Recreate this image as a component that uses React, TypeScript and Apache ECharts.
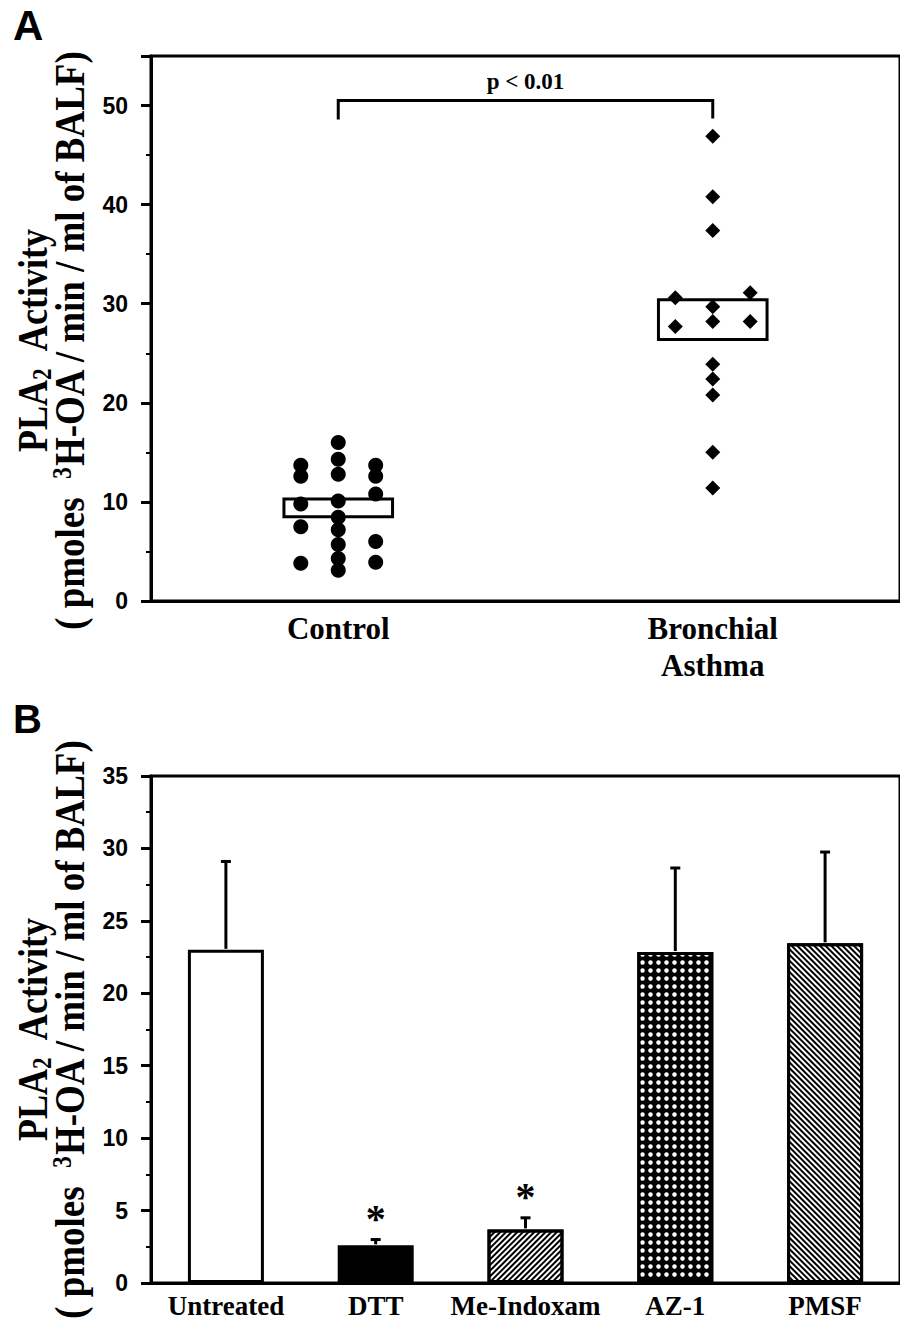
import React, { useEffect, useRef } from "react";
import * as echarts from "echarts";

// ---------- Panel A data ----------
const groupsA = ["Control", "Bronchial\nAsthma"];
const controlLeft = [13.7, 12.6, 9.8, 7.5, 3.8];
const controlMid = [16.0, 14.3, 12.8, 10.1, 8.45, 7.2, 5.7, 4.3, 3.1];
const controlRight = [13.7, 12.6, 10.8, 6.0, 3.9];
const asthmaLeft = [30.6, 27.7];
const asthmaMid = [46.9, 40.8, 37.4, 29.7, 28.2, 23.9, 22.4, 20.8, 15.0, 11.4];
const asthmaRight = [31.1, 28.2];
const boxLow = [8.5, 26.4];
const boxHigh = [10.3, 30.4];
const bracketFoot = [48.6, 48.7];
const bracketTop = 50.5;
const bracketLabel = "p < 0.01";

// ---------- Panel B data ----------
const treatments = ["Untreated", "DTT", "Me-Indoxam", "AZ-1", "PMSF"];
const activityMean = [23.0, 2.6, 3.7, 22.85, 23.45];
const activityErrTop = [29.1, 3.0, 4.5, 28.65, 29.75];
const significant = [false, true, true, false, false];

const SERIF = '"Liberation Serif", "Times New Roman", serif';
const SANS = '"Liberation Sans", Arial, sans-serif';

const col = (center: number, off: number, vals: number[]) => vals.map((v) => [center + off, v]);

const titleRich: any = {
  n: { fontSize: 42, fontWeight: "bold", fontFamily: SERIF, lineHeight: 44, fill: "#000" },
  sub: { fontSize: 27, fontWeight: "bold", fontFamily: SERIF, lineHeight: 27, verticalAlign: "bottom", fill: "#000" },
  sup: { fontSize: 27, fontWeight: "bold", fontFamily: SERIF, lineHeight: 27, verticalAlign: "top", fill: "#000" },
};

function yTitle(cx: number, cy: number, line1: boolean) {
  return {
    type: "text",
    x: cx,
    y: cy,
    rotation: Math.PI / 2,
    scaleX: line1 ? 0.86 : 0.88,
    style: {
      text: line1 ? "{n|PLA}{sub|2}{n|  Activity}" : "{n|( pmoles  }{sup|3}{n|H-OA / min / ml of BALF)}",
      rich: titleRich,
      align: "center",
      verticalAlign: "middle",
      fill: "#000",
    },
  };
}

const hatchFwd = {
  symbol: "rect",
  symbolSize: 1,
  color: "#000",
  backgroundColor: "#fff",
  dashArrayX: [1, 0],
  dashArrayY: [1.6, 2],
  rotation: -Math.PI / 4,
};
const hatchBack = {
  symbol: "rect",
  symbolSize: 1,
  color: "#000",
  backgroundColor: "#fff",
  dashArrayX: [1, 0],
  dashArrayY: [1.4, 1.8],
  rotation: Math.PI / 4,
};
const dots = {
  symbol: "circle",
  symbolSize: 0.9,
  color: "#fff",
  backgroundColor: "#000",
  dashArrayX: [5, 3],
  dashArrayY: [5, 3],
  rotation: 0,
};

const barStyles: any[] = [
  { color: "#fff", borderColor: "#000", borderWidth: 3 },
  { color: "#000", borderColor: "#000", borderWidth: 3 },
  { color: "#fff", borderColor: "#000", borderWidth: 3, decal: hatchFwd },
  { color: "#000", borderColor: "#000", borderWidth: 3, decal: dots },
  { color: "#fff", borderColor: "#000", borderWidth: 3, decal: hatchBack },
];

export default function App() {
  const ref = useRef<HTMLDivElement>(null);
  useEffect(() => {
    if (!ref.current) return;
    const chart = echarts.init(ref.current, null, { renderer: "svg" });
    const tickLabel = { fontFamily: SANS, fontWeight: "bold", fontSize: 23, color: "#000", margin: 23 };
    const yCommon = {
      type: "value",
      axisLine: { show: true, lineStyle: { color: "#000", width: 3 } },
      axisTick: { show: true, length: 10, lineStyle: { color: "#000", width: 3 } },
      minorTick: { show: true, splitNumber: 2, length: 5, lineStyle: { color: "#000", width: 2 } },
      splitLine: { show: false },
    };
    const option: any = {
      animation: false,
      backgroundColor: "#fff",
      grid: [
        { left: 151, top: 56, width: 760, height: 545, show: true, borderColor: "#000", borderWidth: 3, backgroundColor: "transparent" },
        { left: 151, top: 776, width: 765, height: 507, show: true, borderColor: "#000", borderWidth: 3, backgroundColor: "transparent" },
      ],
      xAxis: [
        {
          gridIndex: 0,
          type: "category",
          data: groupsA,
          axisTick: { show: false },
          axisLine: { show: true, lineStyle: { color: "#000", width: 3 } },
          axisLabel: { fontFamily: SERIF, fontWeight: "bold", fontSize: 31, color: "#000", margin: 9, lineHeight: 37 },
        },
        { gridIndex: 0, type: "value", min: 0.5, max: 2.5, show: false },
        {
          gridIndex: 1,
          type: "category",
          data: treatments,
          axisTick: { show: false },
          axisLine: { show: true, lineStyle: { color: "#000", width: 3 } },
          axisLabel: { fontFamily: SERIF, fontWeight: "bold", fontSize: 27, color: "#000", margin: 9, interval: 0 },
        },
      ],
      yAxis: [
        { ...yCommon, gridIndex: 0, min: 0, max: 55, interval: 10, axisLabel: { ...tickLabel, showMaxLabel: false } },
        { ...yCommon, gridIndex: 1, min: 0, max: 35, interval: 5, axisLabel: { ...tickLabel } },
      ],
      graphic: [
        { type: "text", x: 13, y: 25, style: { text: "A", font: `bold 42px ${SANS}`, fill: "#000", align: "left", verticalAlign: "middle" } },
        { type: "text", x: 13, y: 719, style: { text: "B", font: `bold 40px ${SANS}`, fill: "#000", align: "left", verticalAlign: "middle" } },
        yTitle(33, 340, true),
        yTitle(70, 340, false),
        yTitle(33, 1029, true),
        yTitle(70, 1029, false),
      ],
      series: [
        {
          type: "custom",
          xAxisIndex: 1,
          yAxisIndex: 0,
          z: 1,
          silent: true,
          data: [1, 2].map((c, i) => [c, boxLow[i], boxHigh[i]]),
          renderItem: (params: any, api: any) => {
            const x = api.value(0);
            const p1 = api.coord([x - 0.145, api.value(2)]);
            const p2 = api.coord([x + 0.145, api.value(1)]);
            return {
              type: "rect",
              shape: { x: p1[0], y: p1[1], width: p2[0] - p1[0], height: p2[1] - p1[1] },
              style: { fill: "none", stroke: "#000", lineWidth: 3 },
            };
          },
        },
        {
          type: "scatter",
          xAxisIndex: 1,
          yAxisIndex: 0,
          z: 3,
          silent: true,
          symbol: "circle",
          symbolSize: 15,
          itemStyle: { color: "#000", opacity: 1 },
          data: [...col(1, -0.1, controlLeft), ...col(1, 0, controlMid), ...col(1, 0.1, controlRight)],
        },
        {
          type: "scatter",
          xAxisIndex: 1,
          yAxisIndex: 0,
          z: 3,
          silent: true,
          symbol: "diamond",
          symbolSize: 15,
          itemStyle: { color: "#000", opacity: 1 },
          data: [...col(2, -0.1, asthmaLeft), ...col(2, 0, asthmaMid), ...col(2, 0.1, asthmaRight)],
        },
        {
          type: "custom",
          xAxisIndex: 1,
          yAxisIndex: 0,
          z: 2,
          silent: true,
          data: [[1, 2, bracketFoot[0], bracketFoot[1], bracketTop]],
          renderItem: (params: any, api: any) => {
            const a = api.coord([api.value(0), api.value(2)]);
            const b = api.coord([api.value(0), api.value(4)]);
            const c = api.coord([api.value(1), api.value(4)]);
            const d = api.coord([api.value(1), api.value(3)]);
            return {
              type: "group",
              children: [
                { type: "polyline", shape: { points: [a, b, c, d] }, style: { fill: "none", stroke: "#000", lineWidth: 3 } },
                {
                  type: "text",
                  x: (b[0] + c[0]) / 2,
                  y: b[1] - 19,
                  style: { text: bracketLabel, font: `bold 23px ${SERIF}`, fill: "#000", align: "center", verticalAlign: "middle" },
                },
              ],
            };
          },
        },
        {
          type: "bar",
          xAxisIndex: 2,
          yAxisIndex: 1,
          barWidth: 76,
          silent: true,
          data: activityMean.map((v, i) => ({ value: v, itemStyle: barStyles[i] })),
        },
        {
          type: "custom",
          xAxisIndex: 2,
          yAxisIndex: 1,
          z: 3,
          silent: true,
          data: treatments.map((t, i) => [i, activityMean[i], activityErrTop[i], significant[i] ? 1 : 0]),
          renderItem: (params: any, api: any) => {
            const i = api.value(0);
            const base = api.coord([i, api.value(1)]);
            const top = api.coord([i, api.value(2)]);
            const children: any[] = [
              { type: "line", shape: { x1: base[0], y1: base[1] - 1, x2: top[0], y2: top[1] }, style: { stroke: "#000", lineWidth: 3 } },
              { type: "line", shape: { x1: top[0] - 5, y1: top[1], x2: top[0] + 5, y2: top[1] }, style: { stroke: "#000", lineWidth: 3 } },
            ];
            if (api.value(3)) {
              children.push({
                type: "text",
                x: top[0],
                y: top[1] - 21,
                style: { text: "*", font: `bold 40px ${SERIF}`, fill: "#000", align: "center", verticalAlign: "middle" },
              });
            }
            return { type: "group", children };
          },
        },
      ],
    };
    chart.setOption(option);
    return () => chart.dispose();
  }, []);
  return <div ref={ref} style={{ position: "absolute", left: 0, top: 0, width: 900, height: 1321 }} />;
}
